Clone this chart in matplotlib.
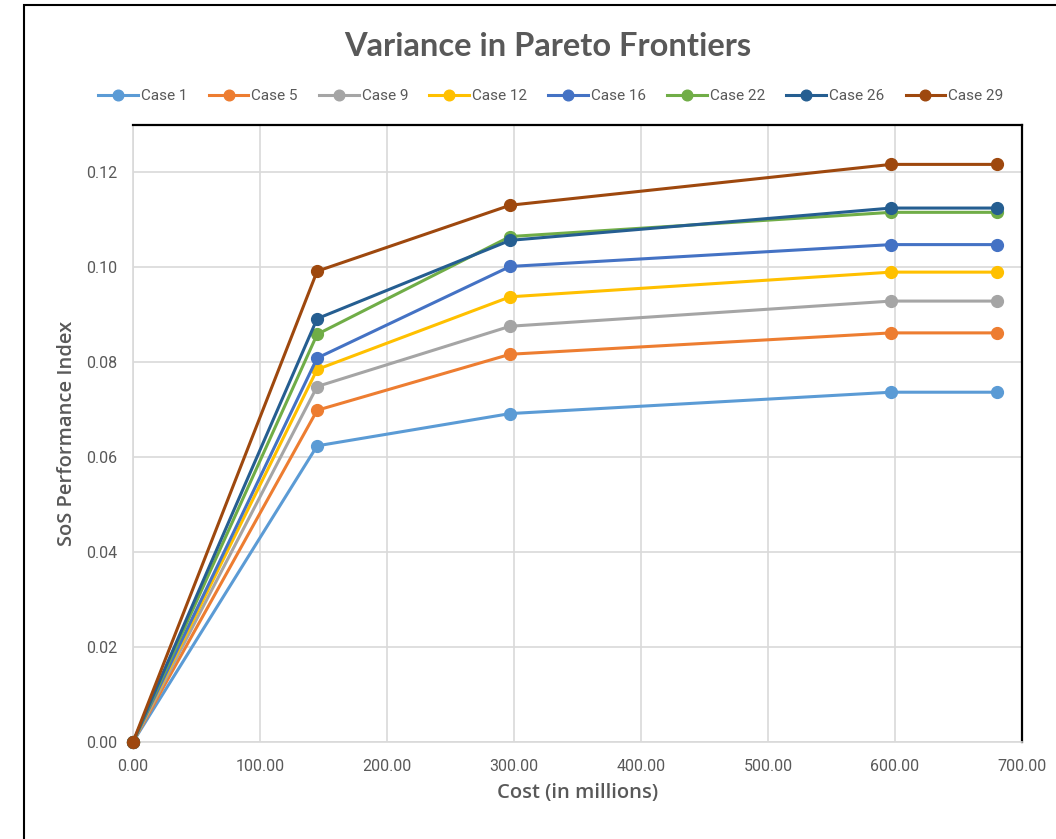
import numpy as np
import matplotlib.pyplot as plt
from matplotlib.patches import Rectangle

plt.rcParams['font.family'] = ['Roboto', 'DejaVu Sans']

# cost points (in millions)
cost = [0, 145, 297, 597, 680]

case_names = ["Case 1", "Case 5", "Case 9", "Case 12", "Case 16", "Case 22", "Case 26", "Case 29"]
case1 = [0, 0.0624, 0.0692, 0.0737, 0.0737]
case5 = [0, 0.0699, 0.0817, 0.0862, 0.0862]
case9 = [0, 0.0749, 0.0876, 0.0929, 0.0929]
case12 = [0, 0.0785, 0.0938, 0.0990, 0.0990]
case16 = [0, 0.0809, 0.1002, 0.1048, 0.1048]
case22 = [0, 0.0859, 0.1065, 0.1116, 0.1116]
case26 = [0, 0.0892, 0.1057, 0.1125, 0.1125]
case29 = [0, 0.0992, 0.1131, 0.1217, 0.1217]
all_cases = [case1, case5, case9, case12, case16, case22, case26, case29]

colors = ["#5B9BD5", "#ED7D31", "#A5A5A5", "#FFC000", "#4472C4", "#70AD47", "#255E91", "#9E480E"]

fig = plt.figure(figsize=(10.56, 8.39), dpi=100)
ax = fig.add_axes([133/1056, 1 - 742/839, (1022-133)/1056, (742-125)/839])

for name, vals, c in zip(case_names, all_cases, colors):
    ax.plot(cost, vals, color=c, lw=2.2, marker='o', markersize=8.5, label=name, zorder=3, clip_on=False)

ax.set_xlim(0, 700)
ax.set_ylim(0, 0.13)
ax.set_xticks(np.arange(0, 701, 100))
ax.set_yticks(np.arange(0, 0.121, 0.02))
ax.xaxis.set_major_formatter(plt.FuncFormatter(lambda v, p: "%.2f" % v))
ax.yaxis.set_major_formatter(plt.FuncFormatter(lambda v, p: "%.2f" % v))
ax.tick_params(length=0, labelsize=11.5, labelcolor="#595959")
ax.tick_params(axis='x', pad=12)
ax.tick_params(axis='y', pad=11.5)
ax.grid(True, color="#D9D9D9", lw=1.2, zorder=0)
ax.set_axisbelow(True)

ax.spines['top'].set_color('black')
ax.spines['top'].set_linewidth(1.6)
ax.spines['right'].set_color('black')
ax.spines['right'].set_linewidth(1.6)
ax.spines['left'].set_color('#D9D9D9')
ax.spines['left'].set_linewidth(1.2)
ax.spines['bottom'].set_color('#D9D9D9')
ax.spines['bottom'].set_linewidth(1.2)

lab_font = ['Open Sans', 'DejaVu Sans']
ax.set_xlabel("Cost (in millions)", fontsize=14.5, fontweight='semibold', color="#595959",
              labelpad=7, family=lab_font)
ax.set_ylabel("SoS Performance Index", fontsize=14.5, fontweight='semibold', color="#595959",
              labelpad=6, family=lab_font)

fig.text(548/1056, 1 - 46/839, "Variance in Pareto Frontiers", ha='center', va='center',
         fontsize=23.5, fontweight='bold', color="#595959", family=['Lato', 'DejaVu Sans'])

leg = fig.legend(loc='center', bbox_to_anchor=(551/1056, 1 - 96/839), ncol=8, frameon=False,
                 fontsize=11, handlelength=2.6, columnspacing=1.38, handletextpad=0.2,
                 markerscale=0.9)
for t in leg.get_texts():
    t.set_color("#595959")

# outer chart border
fig.patches.append(Rectangle((24/1056, -0.1), 1.2, 1 - 5/839 + 0.1, transform=fig.transFigure,
                             fill=False, edgecolor='black', lw=1.5))

fig.savefig("out.png", dpi=100)
